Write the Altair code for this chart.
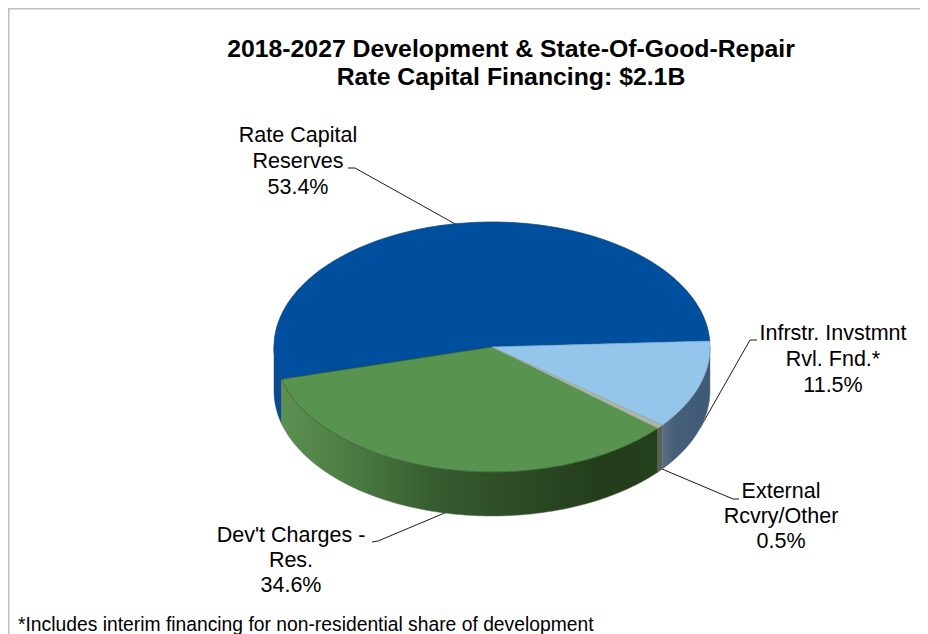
import math
import altair as alt

# ---- data ----
categories = ["Infrstr. Invstmnt Rvl. Fnd.*", "External Rcvry/Other", "Dev't Charges - Res.", "Rate Capital Reserves"]
shares = [11.5, 0.5, 34.6, 53.4]
title_lines = ["2018-2027 Development & State-Of-Good-Repair", "Rate Capital Financing: $2.1B"]
footnote = "*Includes interim financing for non-residential share of development"
label_lines = [
    ["Infrstr. Invstmnt", "Rvl. Fnd.*", "11.5%"],
    ["External", "Rcvry/Other", "0.5%"],
    ["Dev't Charges -", "Res.", "34.6%"],
    ["Rate Capital", "Reserves", "53.4%"],
]

# ---- layout (page pixels) ----
OX, OY = 8, 8
CX, CY, RX, RY, DEPTH = 492, 347, 218, 125, 44
START = -2.7
top_colors = ["#94c5ea", "#aab8a6", "#58944f", "#004f9f"]
label_x = [833, 781, 291, 298]
label_y = [[340, 366, 392], [498, 523, 548], [542, 567, 592], [142, 168, 194]]
leaders = [
    [(757, 340), (750, 340), (700, 428)],
    [(662, 469), (733, 499), (739, 499)],
    [(447, 512), (378, 541), (372, 542)],
    [(348, 168), (355, 168), (457, 225)],
]

def P(x, y):
    return [x - OX, y - OY]

def ell(t, dy=0):
    r = math.radians(t)
    return P(CX + RX * math.cos(r), CY + RY * math.sin(r) + dy)

def arc(a, b, dy=0, step=1.0):
    n = max(2, int(abs(b - a) / step) + 1)
    return [ell(a + (b - a) * i / (n - 1), dy) for i in range(n)]

def feature(kind, coords):
    return {"type": "Feature", "properties": {}, "geometry": {"type": kind, "coordinates": coords}}

def grad(stops):
    return alt.Gradient(gradient="linear", x1=0, x2=1, y1=0, y2=0,
                        stops=[alt.GradientStop(offset=o, color=c) for o, c in stops])

PROJ = dict(type="identity", scale=1, translate=[0, 0])

def poly(coords, fill, stroke=None, sw=0.6):
    ring = coords + [coords[0]]
    kw = {"fill": fill, "strokeWidth": sw}
    if stroke:
        kw["stroke"] = stroke
    else:
        kw["strokeWidth"] = 0
    return alt.Chart(alt.Data(values=[feature("Polygon", [ring])])).mark_geoshape(**kw).project(**PROJ)

def path(coords, color="#000000", sw=0.9):
    pts = [P(*c) for c in coords]
    return alt.Chart(alt.Data(values=[feature("LineString", pts)])).mark_geoshape(
        filled=False, stroke=color, strokeWidth=sw, fillOpacity=0).project(**PROJ)

# slice angles derived from the shares
bounds = [START]
for s in shares:
    bounds.append(bounds[-1] + s * 3.6)

side_fills = [
    grad([(0, "#5b6f82"), (0.25, "#465f78"), (1, "#3f5a76")]),
    "#5a5f58",
    grad([(0, "#5c9151"), (0.2, "#4a7a41"), (0.4, "#375c30"), (0.62, "#2d4c25"), (0.85, "#233d1b"), (1, "#243f1b")]),
    "#0a4a90",
]
side_stroke = ["#6d7a86", "#6a6a6a", "#59705a", "#1a5090"]

layers = []

for l in leaders:
    layers.append(path(l))

# side walls (only the part facing the viewer)
for i in [3, 0, 1, 2]:
    a, b = bounds[i], bounds[i + 1]
    a2, b2 = max(a, 0), min(b, 180)
    if b2 <= a2:
        continue
    layers.append(poly(arc(a2, b2) + arc(b2, a2, DEPTH), side_fills[i], side_stroke[i], 0.5))

# top faces
edge = ["#7fa9c9", "#9aa69a", "#2f5a2a", "#0b3f78"]
for i in [3, 2, 0, 1]:
    a, b = bounds[i], bounds[i + 1]
    layers.append(poly([P(CX, CY)] + arc(a, b), top_colors[i], edge[i], 0.7))

# frame
W, H = 912, 626
layers.append(path([(8.7, 634), (8.7, 8.7), (920, 8.7)], "#bfbfbf", 1.6))

def txt(s, x, y, size=21, bold=False, align="center"):
    return alt.Chart(alt.Data(values=[{"t": s}])).mark_text(
        font="Liberation Sans", fontSize=size, fontWeight="bold" if bold else "normal",
        align=align, baseline="alphabetic", color="#000000",
    ).encode(text="t:N", x=alt.value(x - OX), y=alt.value(y - OY))

layers.append(txt(title_lines[0], 511, 57, 24.8, True))
layers.append(txt(title_lines[1], 511, 85, 24.8, True))
for lines, x, ys in zip(label_lines, label_x, label_y):
    for s, y in zip(lines, ys):
        layers.append(txt(s, x, y, 21.5))
layers.append(txt(footnote, 18, 631, 19.3, False, "left"))

chart = alt.layer(*layers).properties(
    width=W, height=H, padding=0, autosize=alt.AutoSizeParams(type="none"),
    background="#ffffff",
).configure_view(strokeWidth=0)

chart.save("out.html", embed_options={"renderer": "svg", "actions": False})
